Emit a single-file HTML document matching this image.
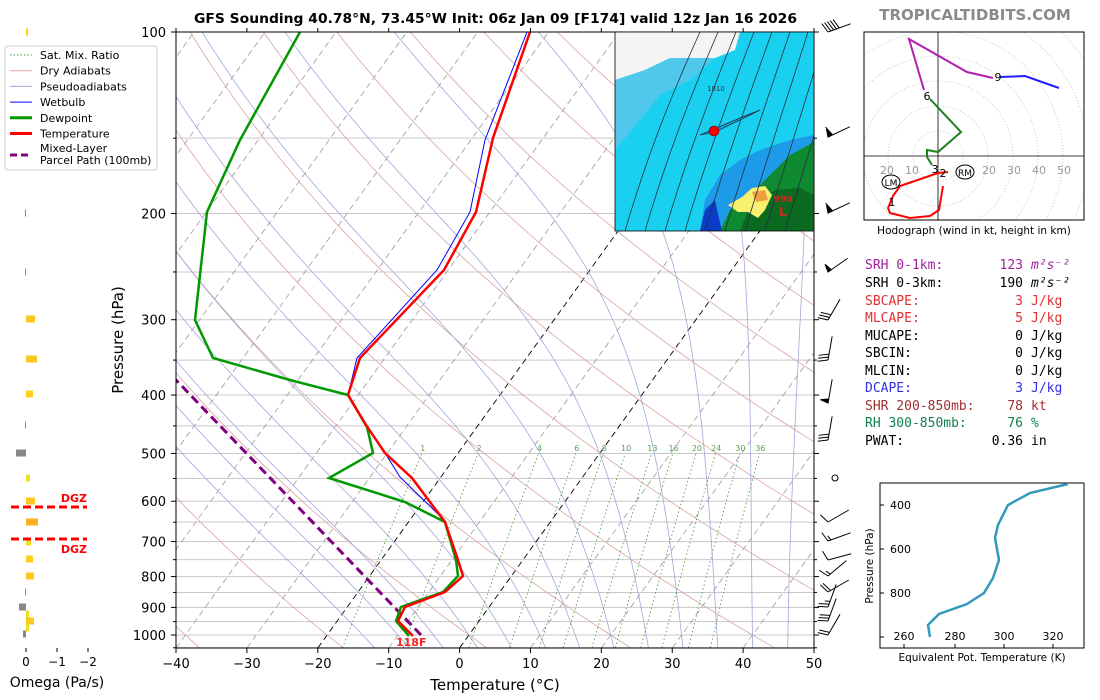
<!DOCTYPE html>
<html><head><meta charset="utf-8"><style>
body{margin:0;background:#fff;width:1100px;height:700px;overflow:hidden}
svg{display:block}
text{font-family:"DejaVu Sans","Liberation Sans",sans-serif}
.m{font-family:"DejaVu Sans Mono","Liberation Mono",monospace;font-size:13px}
</style></head><body>
<svg id="s" width="1100" height="700" viewBox="0 0 1100 700" xmlns="http://www.w3.org/2000/svg">
<defs>
<clipPath id="ax"><rect x="176" y="32" width="638" height="616"/></clipPath>
<clipPath id="mp"><rect x="615" y="32" width="199" height="199"/></clipPath>
<clipPath id="ho"><rect x="864" y="32" width="220" height="188"/></clipPath>
</defs>
<g id="bg" clip-path="url(#ax)"></g>
<g id="fg"></g>
</svg>
<script>
const NS="http://www.w3.org/2000/svg";
const S=document.getElementById('s'),BG=document.getElementById('bg'),FG=document.getElementById('fg');
function el(tag,attrs,parent,txt){const e=document.createElementNS(NS,tag);for(const k in attrs)e.setAttribute(k,attrs[k]);if(txt!==undefined)e.textContent=txt;(parent||FG).appendChild(e);return e;}
function Y(p){return 32+603*Math.log10(p/100);}
function X(T,p){return 176+(T+40)*7.089+0.72*(648-Y(p));}
function pl(pts,attrs,parent){el('polyline',Object.assign({points:pts.map(a=>a[0].toFixed(1)+','+a[1].toFixed(1)).join(' '),fill:'none'},attrs),parent);}
const ps=[];for(let p=1050;p>=100;p-=10)ps.push(p);
for(let p=100;p<=1050;p+=50){el('line',{x1:176,x2:814,y1:Y(p),y2:Y(p),stroke:'#c8c8c8','stroke-width':1},BG);}
for(let T=-160;T<=50;T+=10){pl([[X(T,1050),Y(1050)],[X(T,100),Y(100)]],{stroke:(T==0||T==-20)?'#000':'#999','stroke-width':(T==0||T==-20)?0.9:0.8,'stroke-dasharray':'6,4'},BG);}
for(let th=-40;th<=240;th+=20){const tk=th+273.15;pl(ps.map(p=>[X(tk*Math.pow(p/1000,0.2857)-273.15,p),Y(p)]),{stroke:'#d9a3a3','stroke-width':0.8},BG);}
function es(T){return 6.112*Math.exp(17.67*T/(T+243.5));}
for(let t0=-15;t0<=45;t0+=5){
 let T=t0+273.15;let up=[],dn=[];
 function step(T,p,dp){const e=es(T-273.15);const rs=0.622*e/(p-e);const Lv=2.5e6,Rd=287,cp=1005;
   const dTdp=(Rd*T+Lv*rs)/(cp+Lv*Lv*rs*0.622/(Rd*T*T))/p;return T+dTdp*dp;}
 let TT=T;for(let p=1000;p>=100;p-=2){up.push([X(TT-273.15,p),Y(p)]);TT=step(TT,p,-2);}
 TT=T;for(let p=1000;p<=1050;p+=2){dn.unshift([X(TT-273.15,p),Y(p)]);TT=step(TT,p,2);}
 pl(dn.concat(up),{stroke:'#a5a5dd','stroke-width':0.8},BG);
}
[1,2,4,6,8,10,13,16,20,24,30,36].forEach(w=>{
 const td=p=>{const e=w*p/(622+w);const l=Math.log(e/6.112);return 243.5*l/(17.67-l);};
 const pp=[];for(let p=1050;p>=500;p-=10)pp.push([X(td(p),p),Y(p)]);
 pl(pp,{stroke:'#3a9a3a','stroke-width':0.8,'stroke-dasharray':'1.5,2.5'},BG);
 el('text',{x:X(td(495),495),y:451,'font-size':8,fill:'#5aa05a','text-anchor':'middle'},BG,w);
});
pl([[421,635],[176,380],[150,353]],{stroke:'#800080','stroke-width':3,'stroke-dasharray':'9,5'},BG);
pl([[409,636],[396,621],[401,607],[443,592],[458,576],[456,560],[445,522],[405,502],[329,478],[373,453],[367,427],[348,395],[290,380],[213,358],[195,320],[207,212],[240,140],[300,32]],{stroke:'#009900','stroke-width':2.5},BG);
pl([[413,636],[398,621],[405,607],[445,592],[463,576],[458,560],[445,522],[437,513],[400,477],[385,453],[366,425],[348,395],[357,358],[437,270],[470,212],[485,140],[527,32]],{stroke:'#0000ff','stroke-width':1},BG);
pl([[413,636],[398,621],[405,607],[445,592],[463,576],[458,560],[445,522],[412,478],[385,453],[366,425],[348,395],[360,358],[444,270],[476,212],[493,138],[530,32]],{stroke:'#ff0000','stroke-width':2.5},BG);
el('text',{x:396,y:646,'font-size':11,'font-weight':'bold',fill:'#ff2020'},BG,'118F');
el('rect',{x:176,y:32,width:638,height:616,fill:'none',stroke:'#000','stroke-width':1});
for(let T=-40;T<=50;T+=10){const x=176+(T+40)*7.089;el('line',{x1:x,x2:x,y1:648,y2:653,stroke:'#000'});el('line',{x1:x,x2:x,y1:32,y2:28,stroke:'#000'});
 el('text',{x:x,y:668,'font-size':13,'text-anchor':'middle'},FG,(T<0?'\u2212'+(-T):T));}
for(let p=100;p<=1050;p+=50){const y=Y(p);const maj=p%100==0;el('line',{x1:176,x2:maj?171:173,y1:y,y2:y,stroke:'#000'});el('line',{x1:814,x2:maj?819:817,y1:y,y2:y,stroke:'#000'});
 if(maj)el('text',{x:166,y:y+5,'font-size':13,'text-anchor':'end'},FG,p);}
el('text',{x:495,y:690,'font-size':15,'text-anchor':'middle'},FG,'Temperature (°C)');
el('text',{x:123,y:340,'font-size':15,'text-anchor':'middle',transform:'rotate(-90 123 340)'},FG,'Pressure (hPa)');
el('text',{x:194,y:23,'font-size':13.5,'font-weight':'bold',textLength:603,lengthAdjust:'spacingAndGlyphs'},FG,'GFS Sounding 40.78°N, 73.45°W Init: 06z Jan 09 [F174] valid 12z Jan 16 2026');
el('text',{x:975,y:20,'font-size':15,'font-weight':'bold','text-anchor':'middle',fill:'#8a8a8a'},FG,'TROPICALTIDBITS.COM');
el('rect',{x:5,y:46,width:152,height:124,rx:3,fill:'#fff',stroke:'#ccc'});
const lg=[['Sat. Mix. Ratio','#3a9a3a',1,'1.5,2'],['Dry Adiabats','#d9a3a3',1,''],['Pseudoadiabats','#a5a5dd',1,''],['Wetbulb','#0000ff',1,''],['Dewpoint','#009900',3,''],['Temperature','#ff0000',3,'']];
lg.forEach((l,i)=>{const y=55+i*15.7;el('line',{x1:10,x2:32,y1:y,y2:y,stroke:l[1],'stroke-width':l[2],'stroke-dasharray':l[3]});el('text',{x:40,y:y+4,'font-size':11},FG,l[0]);});
el('line',{x1:10,x2:32,y1:155,y2:155,stroke:'#800080','stroke-width':3,'stroke-dasharray':'7,4'});
el('text',{x:40,y:152,'font-size':11},FG,'Mixed-Layer');el('text',{x:40,y:164,'font-size':11},FG,'Parcel Path (100mb)');
[[32,26,28,'#ffd700'],[213,25,26,'#888'],[272,25,26,'#888'],[319,26,35,'#fcc820'],[359,26,37,'#fcc820'],[394,26,33,'#fcd020'],[425,25,26,'#888'],[453,16,26,'#888'],[478,26,30,'#f0e020'],[501,26,35,'#fcc820'],[522,26,38,'#fcb020'],[542,26,31,'#f0e020'],[559,26,33,'#fcd020'],[576,26,34,'#fcc820'],[592,25,26,'#888'],[607,19,26,'#888'],[614,26,29,'#f0e020'],[621,26,34,'#fcc820'],[628,26,29,'#f0e020'],[634,23,26,'#888']].forEach(b=>{el('rect',{x:b[1],y:b[0]-3.5,width:b[2]-b[1],height:7,fill:b[3]});});
[[26,'0'],[57,'\u22121'],[88,'\u22122']].forEach(t=>{el('line',{x1:t[0],x2:t[0],y1:648,y2:652,stroke:'#000'});el('text',{x:t[0],y:666,'font-size':12,'text-anchor':'middle'},FG,t[1]);});
el('text',{x:57,y:687,'font-size':14,'text-anchor':'middle'},FG,'Omega (Pa/s)');
[507,539].forEach(y=>el('line',{x1:11,x2:87,y1:y,y2:y,stroke:'#ff0000','stroke-width':3,'stroke-dasharray':'8,4'}));
el('text',{x:87,y:502,'font-size':11,'font-weight':'bold',fill:'#ff0000','text-anchor':'end'},FG,'DGZ');
el('text',{x:87,y:553,'font-size':11,'font-weight':'bold',fill:'#ff0000','text-anchor':'end'},FG,'DGZ');
function barb(y,ang,flags,full,half){const g=el('g',{transform:`translate(828 ${y}) rotate(${ang})`,stroke:'#000',fill:'#000','stroke-width':1});
 el('line',{x1:0,y1:0,x2:24,y2:0},g);let pos=0;
 for(let i=0;i<flags;i++){el('polygon',{points:`${pos},0 ${pos+4},0 ${pos+2},-8`},g);pos+=5;}
 for(let i=0;i<full;i++){el('line',{x1:pos,y1:0,x2:pos-3,y2:-10},g);pos+=3;}
 for(let i=0;i<half;i++){el('line',{x1:pos,y1:0,x2:pos-1.5,y2:-5},g);pos+=3;}}
barb(32,-20,0,5,0);barb(137,-25,1,1,0);barb(213,-25,1,1,0);barb(272,-35,1,0,0);barb(320,-60,0,3,0);barb(360,-80,0,3,0);barb(403,-80,1,0,0);barb(440,-80,0,3,0);
el('circle',{cx:835,cy:478,r:3,fill:'none',stroke:'#000'});
barb(522,-30,0,1,0);barb(541,-20,0,1,1);barb(560,-15,0,1,0);barb(576,-40,0,1,1);barb(592,-30,0,2,0);barb(607,-70,0,2,1);barb(621,-70,0,3,0);barb(635,-60,0,2,0);
const M=el('g',{'clip-path':'url(#mp)'});
el('rect',{x:615,y:32,width:199,height:199,fill:'#1ad0f0'},M);
el('path',{d:'M615,32 L740,32 L735,50 L715,58 L670,58 L645,70 L615,80 Z',fill:'#f4f4f4'},M);
el('path',{d:'M615,80 L645,70 L670,58 L715,58 L690,80 L660,95 L640,120 L615,150 Z',fill:'#50c8ec'},M);
el('path',{d:'M700,231 L705,200 L720,175 L740,160 L760,150 L790,140 L814,135 L814,231 Z',fill:'#1e9be8'},M);
el('path',{d:'M720,231 L730,210 L745,195 L760,185 L775,170 L790,155 L814,142 L814,231 Z',fill:'#108a30'},M);
el('path',{d:'M740,231 L750,205 L775,190 L800,188 L814,195 L814,231 Z',fill:'#0a6a20'},M);
el('path',{d:'M728,205 L742,197 L752,188 L765,186 L772,195 L765,210 L758,218 L748,212 L738,212 Z',fill:'#f8f070'},M);
el('path',{d:'M752,192 L765,190 L768,200 L756,202 Z',fill:'#f0a040'},M);
el('path',{d:'M700,231 L705,210 L715,200 L722,231 Z',fill:'#0a3cc8'},M);
for(let i=0;i<9;i++){el('path',{d:`M${625+i*20},231 C${640+i*20},180 ${660+i*20},120 ${700+i*18},32`,fill:'none',stroke:'#203040','stroke-width':0.8},M);}
el('path',{d:'M700,135 L740,118 L760,110 L750,115 L715,132 Z',fill:'#18a8e0',stroke:'#203040','stroke-width':0.8},M);
el('circle',{cx:714,cy:131,r:5,fill:'#f00',stroke:'#600','stroke-width':0.6},M);
el('text',{x:783,y:202,'font-size':9,'font-weight':'bold',fill:'#e02020','text-anchor':'middle'},M,'990');
el('text',{x:783,y:216,'font-size':12,'font-weight':'bold',fill:'#e02020','text-anchor':'middle','font-family':'Liberation Serif,serif'},M,'L');
el('text',{x:707,y:91,'font-size':7,fill:'#333'},M,'1010');
el('rect',{x:615,y:32,width:199,height:199,fill:'none',stroke:'#000','stroke-width':0.8});
const H=el('g',{'clip-path':'url(#ho)'});
for(let r=1;r<=8;r++)el('circle',{cx:938,cy:156,r:r*25,fill:'none',stroke:'#bbb','stroke-width':0.8,'stroke-dasharray':'1,2'},H);
el('line',{x1:864,x2:1084,y1:156,y2:156,stroke:'#000','stroke-width':0.8},H);
el('line',{x1:938,x2:938,y1:32,y2:220,stroke:'#000','stroke-width':0.8},H);
[[887,'20'],[912,'10'],[989,'20'],[1014,'30'],[1039,'40'],[1064,'50']].forEach(t=>el('text',{x:t[0],y:174,'font-size':11,fill:'#999','text-anchor':'middle'},H,t[1]));
pl([[943,186],[939,210],[930,216],[910,218],[890,213],[888,208],[893,196],[900,186],[938,173],[948,172]],{stroke:'#ff0000','stroke-width':2},H);
pl([[932,165],[927,157],[927,150],[938,152],[961,132],[930,99]],{stroke:'#208020','stroke-width':2},H);
pl([[924,90],[909,39],[967,72],[993,78]],{stroke:'#b020b0','stroke-width':2},H);
pl([[1000,77],[1025,76],[1059,88]],{stroke:'#2020ff','stroke-width':2},H);
[[892,206,'1'],[943,177,'2'],[935,173,'3'],[927,100,'6'],[998,81,'9']].forEach(t=>el('text',{x:t[0],y:t[1],'font-size':11,'text-anchor':'middle'},H,t[2]));
el('ellipse',{cx:891,cy:182,rx:9,ry:7,fill:'none',stroke:'#000'},H);el('text',{x:891,y:186,'font-size':9,'text-anchor':'middle'},H,'LM');
el('ellipse',{cx:965,cy:172,rx:9,ry:7,fill:'none',stroke:'#000'},H);el('text',{x:965,y:176,'font-size':9,'text-anchor':'middle'},H,'RM');
el('rect',{x:864,y:32,width:220,height:188,fill:'none',stroke:'#000'});
el('text',{x:974,y:234,'font-size':10.5,'text-anchor':'middle'},FG,'Hodograph (wind in kt, height in km)');
const rows=[['SRH 0-1km:','123','m²s⁻²','#a020a0'],['SRH 0-3km:','190','m²s⁻²','#000'],['SBCAPE:','3','J/kg','#e03030'],['MLCAPE:','5','J/kg','#e03030'],['MUCAPE:','0','J/kg','#000'],['SBCIN:','0','J/kg','#000'],['MLCIN:','0','J/kg','#000'],['DCAPE:','3','J/kg','#3030e0'],['SHR 200-850mb:','78','kt','#a03030'],['RH 300-850mb:','76','%','#108050'],['PWAT:','0.36','in','#000']];
const ry=[269,287,305,322,340,357,375,392,410,427,445];
rows.forEach((r,i)=>{el('text',{x:865,y:ry[i],class:'m',fill:r[3]},FG,r[0]);el('text',{x:1023,y:ry[i],class:'m',fill:r[3],'text-anchor':'end'},FG,r[1]);
 el('text',{x:1031,y:ry[i],class:'m',fill:r[3],'font-style':i<2?'italic':'normal'},FG,r[2]);});
el('rect',{x:880,y:483,width:204,height:165,fill:'none',stroke:'#000'});
[[904,'260'],[955,'280'],[1004,'300'],[1053,'320']].forEach(t=>{el('line',{x1:t[0],x2:t[0],y1:648,y2:644,stroke:'#000'});el('text',{x:t[0],y:640,'font-size':11,'text-anchor':'middle'},FG,t[1]);});
[[505,'400'],[549,'600'],[593,'800'],[637,'']].forEach(t=>{el('line',{x1:880,x2:884,y1:t[0],y2:t[0],stroke:'#000'});el('text',{x:911,y:t[0]+4,'font-size':11,'text-anchor':'end'},FG,t[1]);});
pl([[1068,484],[1030,493],[1008,505],[998,525],[995,538],[999,560],[993,578],[984,593],[967,604],[939,614],[928,625],[930,637]],{stroke:'#3399bb','stroke-width':2.5});
el('text',{x:982,y:661,'font-size':10.5,'text-anchor':'middle'},FG,'Equivalent Pot. Temperature (K)');
el('text',{x:873,y:566,'font-size':10.5,'text-anchor':'middle',transform:'rotate(-90 873 566)'},FG,'Pressure (hPa)');
</script>
</body></html>
